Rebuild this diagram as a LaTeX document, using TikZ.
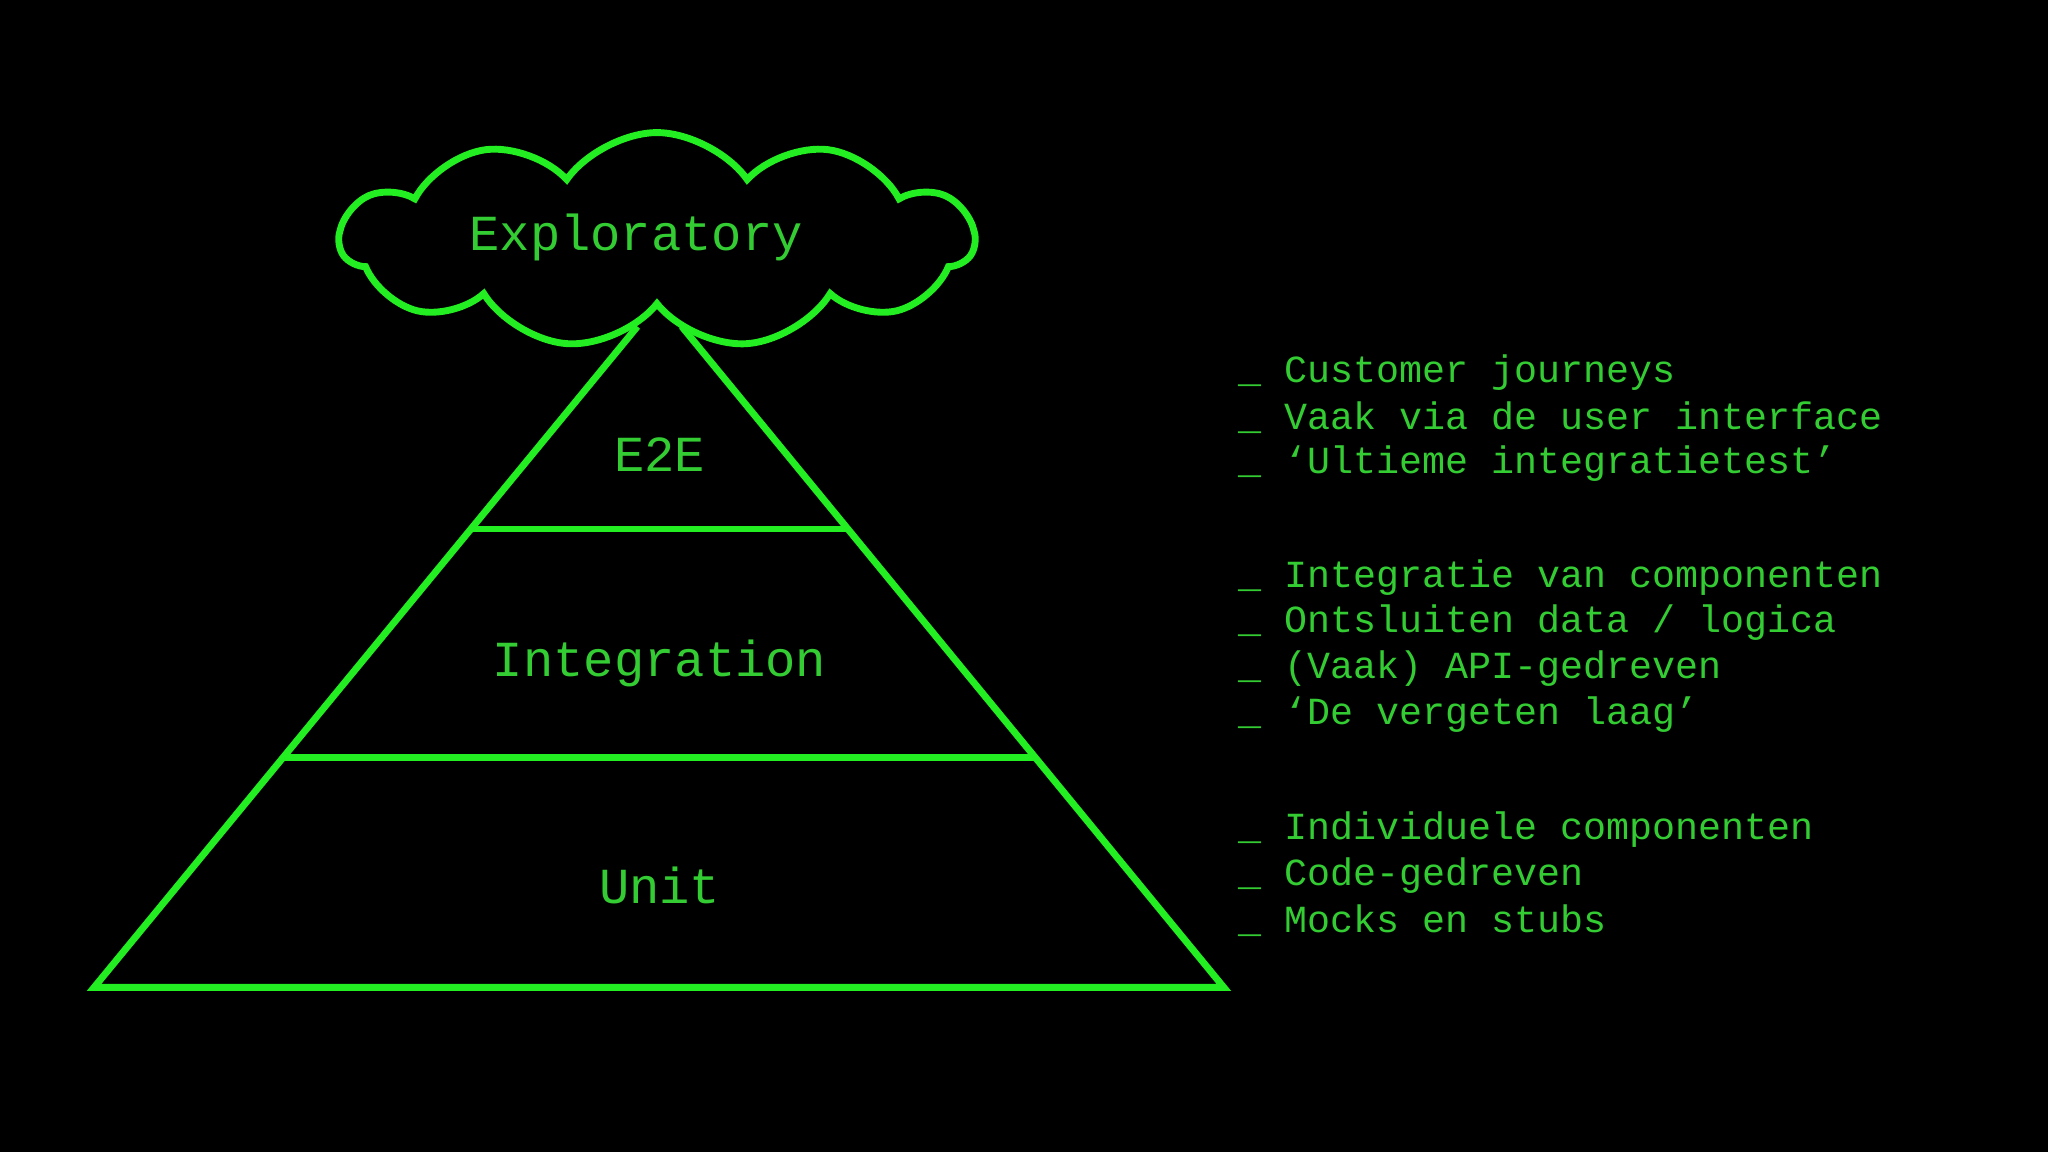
\documentclass[tikz,border=0pt]{standalone}
\usepackage{fontspec}
\setmonofont{Liberation Mono}
\usetikzlibrary{shapes.symbols}
\definecolor{lgreen}{HTML}{22EE22}
\definecolor{tgreen}{HTML}{33CC33}
\begin{document}
\begin{tikzpicture}[x=0.02cm,y=-0.02cm,
  layer/.style={text=tgreen,font=\ttfamily\fontsize{22pt}{24pt}\selectfont},
  note/.style={text=tgreen,font=\ttfamily\fontsize{16.7pt}{18pt}\selectfont,anchor=west,inner sep=0pt},
  edge/.style={draw=lgreen,line width=3pt}]
\fill[black] (0,0) rectangle (1568,882);
\coordinate (tl) at (488,250);
\coordinate (tr) at (522,250);
\coordinate (bl) at (72,756);
\coordinate (br) at (937,756);
\coordinate (l1) at (360,405);
\coordinate (r1) at (648,405);
\coordinate (l2) at (217,580);
\coordinate (r2) at (792,580);
\draw[edge,line join=miter] (tl) -- (bl) -- (br) -- (tr);
\draw[edge] (l1) -- (r1);
\draw[edge] (l2) -- (r2);
\node[cloud,cloud puffs=11,cloud puff arc=110,aspect=3,draw=lgreen,line width=3pt,fill=black,
  minimum width=9.7cm,minimum height=3.3cm] (cl) at (503,184) {};
\node[layer] (exp) at (487,182) {Exploratory};
\node[layer] (e2e) at (505,348) {E2E};
\node[layer] (int) at (505,508) {Integration};
\node[layer] (unit) at (505,678) {Unit};
\node[note] (n1) at (948,285) {\_ Customer journeys};
\node[note] (n2) at (948,320) {\_ Vaak via de user interface};
\node[note] (n3) at (948,355) {\_ ‘Ultieme integratietest’};
\node[note] (n4) at (948,442) {\_ Integratie van componenten};
\node[note] (n5) at (948,477) {\_ Ontsluiten data / logica};
\node[note] (n6) at (948,512) {\_ (Vaak) API-gedreven};
\node[note] (n7) at (948,547) {\_ ‘De vergeten laag’};
\node[note] (n8) at (948,635) {\_ Individuele componenten};
\node[note] (n9) at (948,670) {\_ Code-gedreven};
\node[note] (n10) at (948,705) {\_ Mocks en stubs};
\end{tikzpicture}
\end{document}
